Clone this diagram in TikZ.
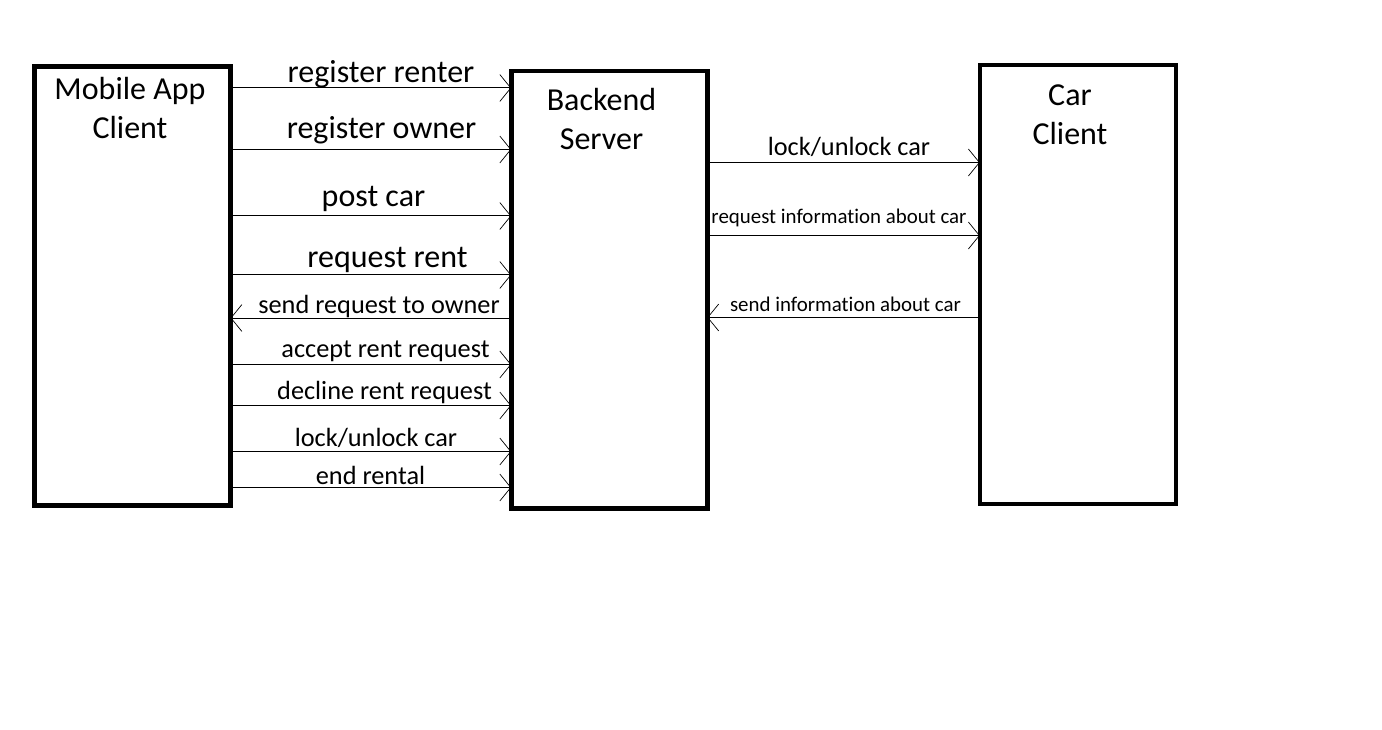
\documentclass[tikz,border=0pt]{standalone}
\usepackage{fontspec}
\setmainfont[Ligatures=CommonOff]{Carlito}
\usetikzlibrary{arrows.meta}
\begin{document}
\begin{tikzpicture}[x=1pt,y=-1pt,
  box/.style={draw=black,line width=4.5pt,minimum width=196pt,inner sep=0pt,outer sep=0pt},
  title/.style={font=\fontsize{32}{39}\selectfont,align=center,anchor=base,inner sep=0pt},
  big/.style={font=\fontsize{32}{38}\selectfont,anchor=base,inner sep=0pt},
  mid/.style={font=\fontsize{26.3}{30}\selectfont,anchor=base,inner sep=0pt},
  small/.style={font=\fontsize{20.9}{24}\selectfont,anchor=base,inner sep=0pt},
  msg/.style={line width=1pt,-{Straight Barb[length=11pt,width=27pt,line width=0.7pt]}}]
\useasboundingbox (0,0) rectangle (1382,730);
\fill[white] (0,0) rectangle (1382,730);
% boxes
\node[box,minimum height=439pt] (mob) at (132.5,286) {};
\node[box,minimum height=437.5pt] (srv) at (609.25,289.75) {};
\node[box,minimum height=439pt] (car) at (1077.85,284.5) {};
% titles
\node[title] (mobt) at (130,139) {Mobile App\\Client};
\node[title] (srvt) at (601.5,149.5) {Backend\\Server};
\node[title] (cart) at (1070,145) {Car\\Client};
% y levels
\coordinate (y1) at (0,88);
\coordinate (y2) at (0,149.5);
\coordinate (y3) at (0,216);
\coordinate (y4) at (0,275);
\coordinate (y5) at (0,318);
\coordinate (y6) at (0,364.5);
\coordinate (y7) at (0,405.5);
\coordinate (y8) at (0,451.5);
\coordinate (y9) at (0,487.5);
\coordinate (c1) at (0,162.5);
\coordinate (c2) at (0,235.5);
\coordinate (c3) at (0,317.5);
% mobile <-> server
\draw[msg] (mob.east |- y1) -- (srv.west |- y1);
\draw[msg] (mob.east |- y2) -- (srv.west |- y2);
\draw[msg] (mob.east |- y3) -- (srv.west |- y3);
\draw[msg] (mob.east |- y4) -- (srv.west |- y4);
\draw[msg] (srv.west |- y5) -- (mob.east |- y5);
\draw[msg] (mob.east |- y6) -- (srv.west |- y6);
\draw[msg] (mob.east |- y7) -- (srv.west |- y7);
\draw[msg] (mob.east |- y8) -- (srv.west |- y8);
\draw[msg] (mob.east |- y9) -- (srv.west |- y9);
% server <-> car
\draw[msg] (srv.east |- c1) -- (car.west |- c1);
\draw[msg] (srv.east |- c2) -- (car.west |- c2);
\draw[msg] (car.west |- c3) -- (srv.east |- c3);
% labels
\node[big] (l1) at (381,83) {register renter};
\node[big] (l2) at (381.5,138.5) {register owner};
\node[big] (l3) at (373.5,207) {post car};
\node[big] (l4) at (387.5,267.5) {request rent};
\node[mid] (l5) at (379,313.5) {send request to owner};
\node[mid] (l6) at (385.5,357.5) {accept rent request};
\node[mid] (l7) at (384.5,399.5) {decline rent request};
\node[mid] (l8) at (376,446) {lock/unlock car};
\node[mid] (l9) at (370.5,484) {end rental};
\node[mid] (k1) at (849,156) {lock/unlock car};
\node[small] (k2) at (839,223.5) {request information about car};
\node[small] (k3) at (845.5,311) {send information about car};
\end{tikzpicture}
\end{document}
